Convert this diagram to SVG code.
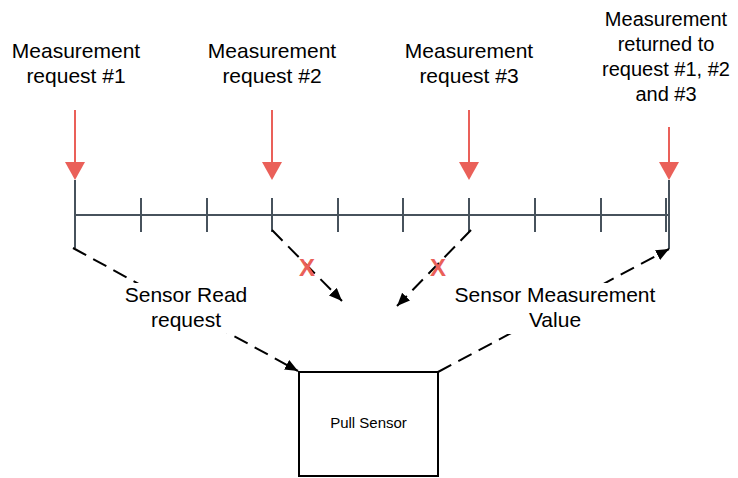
<svg xmlns="http://www.w3.org/2000/svg" width="738" height="478" viewBox="0 0 738 478">
<style>
text{font-family:"Liberation Sans",Arial,sans-serif;fill:#000;text-anchor:middle}
.lbl{font-size:21px}
.lbl2{font-size:20px}
.x{font-size:24px;font-weight:bold;fill:#ea6059}
.tl{stroke:#47525c;stroke-width:2;fill:none}
.red{stroke:#ea6059;stroke-width:2;fill:none}
.redhead{fill:#ea6059}
.dash{stroke:#000;stroke-width:2;fill:none;stroke-dasharray:15,8}
</style>
<defs>
<marker id="ah" markerUnits="userSpaceOnUse" markerWidth="14" markerHeight="12" refX="13" refY="5.5" orient="auto">
<path d="M0,0 L13,5.5 L0,11 z" fill="#000"/>
</marker>
</defs>
<rect width="738" height="478" fill="#fff"/>

<g id="timeline">
<line class="tl" x1="75" y1="180" x2="75" y2="248"/>
<line class="tl" x1="75" y1="215" x2="669" y2="215"/>
<line class="tl" x1="669" y1="180" x2="669" y2="249"/>
<line class="tl" x1="141" y1="198" x2="141" y2="232"/>
<line class="tl" x1="207" y1="198" x2="207" y2="232"/>
<line class="tl" x1="272" y1="198" x2="272" y2="232"/>
<line class="tl" x1="338" y1="198" x2="338" y2="232"/>
<line class="tl" x1="403" y1="198" x2="403" y2="232"/>
<line class="tl" x1="469" y1="198" x2="469" y2="232"/>
<line class="tl" x1="535" y1="198" x2="535" y2="232"/>
<line class="tl" x1="601" y1="198" x2="601" y2="232"/>
<line class="tl" x1="666" y1="198" x2="666" y2="232"/>
</g>

<g id="req1">
<text class="lbl" x="76" y="58">Measurement</text>
<text class="lbl" x="76" y="83">request #1</text>
<line class="red" x1="75" y1="110" x2="75" y2="164"/>
<polygon class="redhead" points="65,162 85,162 75,180"/>
</g>
<g id="req2">
<text class="lbl" x="272" y="58">Measurement</text>
<text class="lbl" x="272" y="83">request #2</text>
<line class="red" x1="272" y1="110" x2="272" y2="164"/>
<polygon class="redhead" points="262,162 282,162 272,180"/>
</g>
<g id="req3">
<text class="lbl" x="469" y="58">Measurement</text>
<text class="lbl" x="469" y="83">request #3</text>
<line class="red" x1="469" y1="110" x2="469" y2="164"/>
<polygon class="redhead" points="459,162 479,162 469,180"/>
</g>
<g id="returned">
<text class="lbl2" x="666" y="26">Measurement</text>
<text class="lbl2" x="666" y="51">returned to</text>
<text class="lbl2" x="666" y="76">request #1, #2</text>
<text class="lbl2" x="666" y="101">and #3</text>
<line class="red" x1="669" y1="127" x2="669" y2="164"/>
<polygon class="redhead" points="659,162 679,162 669,180"/>
</g>

<g id="connectors">
<line class="dash" x1="73" y1="248" x2="298" y2="371" marker-end="url(#ah)"/>
<line class="dash" x1="272" y1="230" x2="342" y2="301" marker-end="url(#ah)"/>
<line class="dash" x1="471" y1="230" x2="397" y2="306" marker-end="url(#ah)"/>
<line class="dash" x1="438" y1="372" x2="669" y2="249" marker-end="url(#ah)"/>
<rect x="124" y="283" width="124" height="50" fill="#fff"/>
<rect x="452" y="283" width="208" height="51" fill="#fff"/>
<text class="lbl" x="186" y="302">Sensor Read</text>
<text class="lbl" x="186" y="327">request</text>
<text class="lbl" x="555" y="302">Sensor Measurement</text>
<text class="lbl" x="555" y="327">Value</text>
<text class="x" x="307" y="276">X</text>
<text class="x" x="438" y="276">X</text>
</g>

<g id="pull-sensor">
<rect x="299" y="372" width="139" height="104" fill="#fff" stroke="#000" stroke-width="2"/>
<text x="368.5" y="428" font-size="15">Pull Sensor</text>
</g>
</svg>
